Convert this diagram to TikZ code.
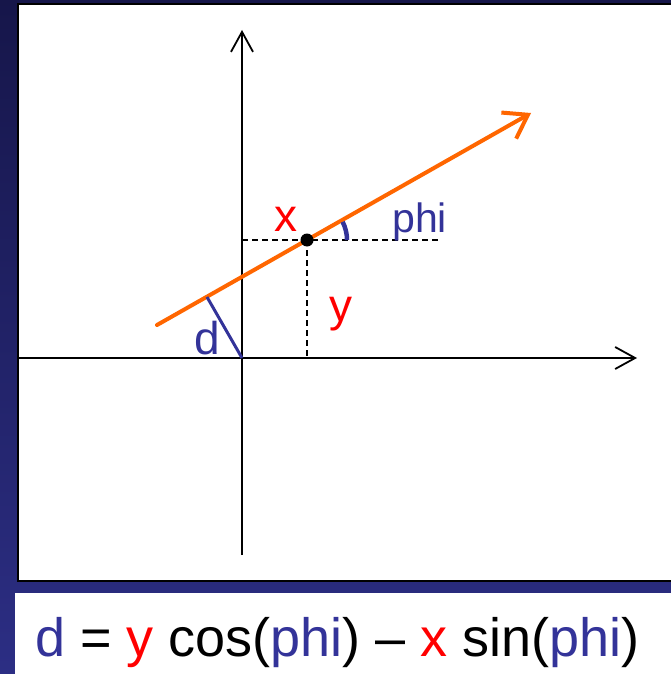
\documentclass[tikz,border=0pt]{standalone}
\usepackage{fontspec}
\setmainfont{Liberation Sans}
\usetikzlibrary{arrows.meta}
\definecolor{navy}{RGB}{51,51,153}
\definecolor{bgtop}{RGB}{22,22,74}
\definecolor{bgbottom}{RGB}{44,46,132}
\definecolor{lineorange}{RGB}{255,102,0}

\begin{document}
\begin{tikzpicture}[x=1pt,y=-1pt,
    axis/.style={line width=1.8pt,-{Straight Barb[length=20pt,width=22pt]}},
    helper/.style={line width=1.8pt,dash pattern=on 6pt off 4pt},
    bigred/.style={red,font=\fontsize{46}{46}\selectfont,inner sep=0pt},
    bigblue/.style={navy,font=\fontsize{46}{46}\selectfont,inner sep=0pt}]
        \useasboundingbox (0,0) rectangle (671,674);

        % pozadi
        \shade[top color=bgtop,bottom color=bgbottom] (0,0) rectangle (671,674);
        \draw[line width=1.5pt,fill=white] (18,4) rectangle (680,581);
        \fill[white] (15,593) rectangle (671,674);

        % osy
        \coordinate (O) at (242,358);
        \draw[axis] (18,358) -- (637,358);
        \draw[axis] (242,555) -- (242,30);

        % bod a primka
        \coordinate (P) at (307,240);
        \coordinate (A) at (157,325);
        \coordinate (B) at (531,113);
        \coordinate (F) at (207,297);
        \draw[helper] (242,240) -- (P) -- (440,240);
        \draw[helper] (P) -- (307,358);
        \draw[lineorange,line width=4pt,line cap=round,
              -{Straight Barb[length=22pt,width=30pt]}] (A) -- (B);
        \draw[navy,line width=3pt] (O) -- (F);
        \draw[navy,line width=4.5pt] (P) ++(40,0) arc (0:-27:40);
        \fill (P) circle (6.5);

        % popisky
        \node[bigred,anchor=base] (lx) at (286,231) {x};
        \node[bigred,anchor=base] (ly) at (341,321) {y};
        \node[bigblue,anchor=base] (ld) at (207,354) {d};
        \node[navy,font=\fontsize{41}{41}\selectfont,inner sep=0pt,anchor=base west]
            (lphi) at (392,232) {phi};

        \node[font=\fontsize{54}{54}\selectfont,inner sep=0pt,anchor=base west] (eq) at (35,656)
            {\textcolor{navy}{d} = \textcolor{red}{y} cos(\textcolor{navy}{phi}) -- \textcolor{red}{x} sin(\textcolor{navy}{phi})};
    \end{tikzpicture}
\end{document}
